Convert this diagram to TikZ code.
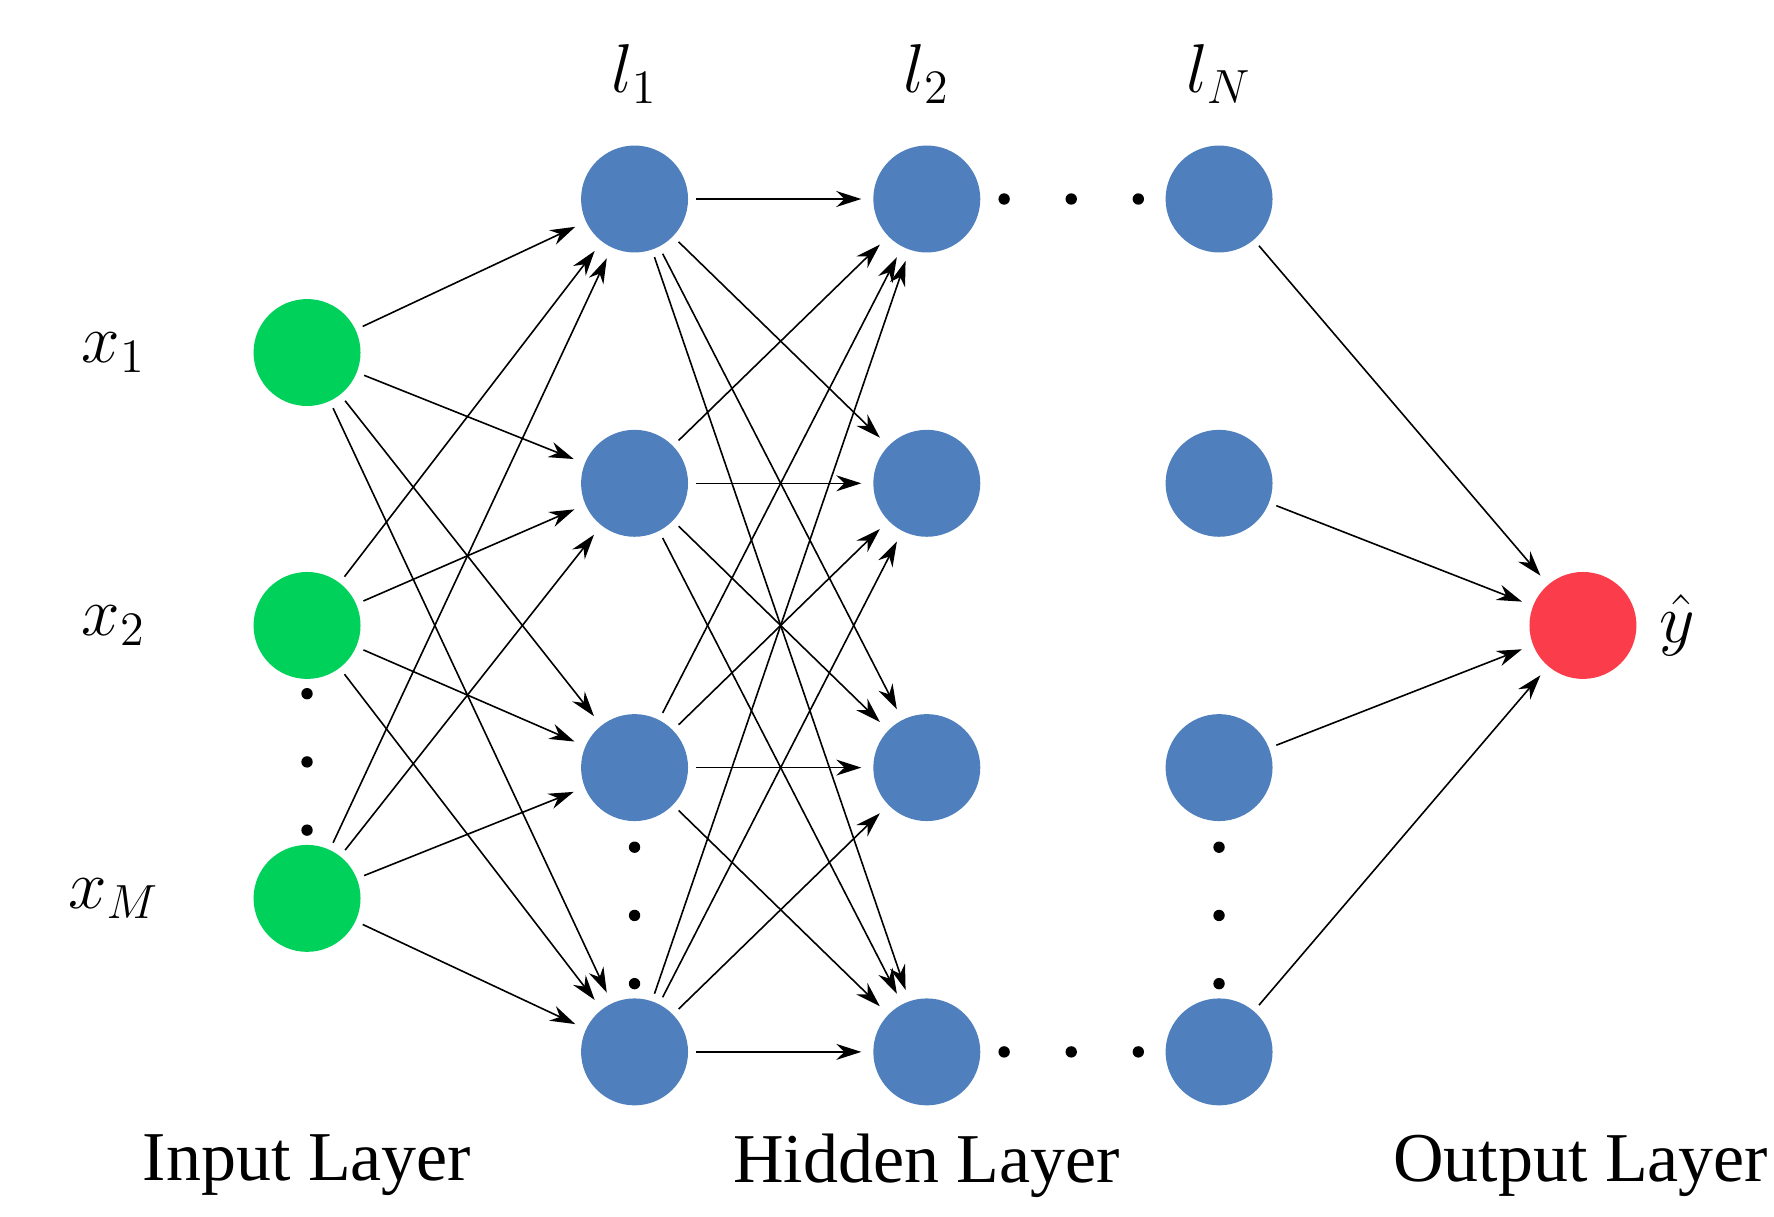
\documentclass[tikz,border=0pt]{standalone}
\usepackage{fontspec}
\setmainfont{Liberation Serif}
\usetikzlibrary{arrows.meta,positioning}

\begin{document}
\begin{tikzpicture}[
    x=0.01cm, y=-0.01cm,
    neuron/.style={circle, minimum size=0.94cm, inner sep=0pt, outer sep=1pt},
    input/.style={neuron, fill=nodegreen},
    hidden/.style={neuron, fill=nodeblue},
    output/.style={neuron, fill=nodered},
    line/.style={draw, -{Stealth[length=2.2mm, width=1.4mm]}, thin, shorten <=1pt, shorten >=2pt},
    dot/.style={circle, fill=black, inner sep=0pt, minimum size=0.1cm},
    lbl/.style={font=\fontsize{17.5}{20}\selectfont},
    mlbl/.style={font=\fontsize{18}{22}\selectfont}
]
    \useasboundingbox (0,0) rectangle (1560,1070);
    \definecolor{nodeblue}{RGB}{79,127,188}
    \definecolor{nodegreen}{RGB}{0,209,90}
    \definecolor{nodered}{RGB}{250,60,75}

    % Nodes
    \node [input] (i1) at (270,310) {};
    \node [input] (i2) at (270,550) {};
    \node [input] (i3) at (270,790) {};
    \foreach \y [count=\k] in {175,425,675,925} {
        \node [hidden] (a\k) at (558,\y) {};
        \node [hidden] (b\k) at (815,\y) {};
        \node [hidden] (c\k) at (1072,\y) {};
    }
    \node [output] (out) at (1392,550) {};

    % Labels
    \node [mlbl] (lx1) at (100,310) {$x_1$};
    \node [mlbl] (lx2) at (100,550) {$x_2$};
    \node [mlbl] (lxm) at (100,790) {$x_M$};
    \node [mlbl] (ll1) at (558,65) {$l_1$};
    \node [mlbl] (ll2) at (815,65) {$l_2$};
    \node [mlbl] (lln) at (1072,65) {$l_N$};
    \node [mlbl] (ly) at (1475,550) {$\hat{y}$};
    \node [lbl] (tin) at (270,1025) {Input Layer};
    \node [lbl] (thid) at (815,1025) {Hidden Layer};
    \node [lbl] (tout) at (1390,1025) {Output Layer};

    % Dots
    \foreach \y in {610,670,730} \node [dot] at (270,\y) {};
    \foreach \y in {745,805,865} {
        \node [dot] at (558,\y) {};
        \node [dot] at (1072,\y) {};
    }
    \foreach \x in {883,942,1001} {
        \node [dot] at (\x,175) {};
        \node [dot] at (\x,925) {};
    }

    % Edges
    \foreach \i in {1,2,3}
        \foreach \j in {1,2,3,4}
            \path [line] (i\i) -- (a\j);
    \foreach \i in {1,2,3,4}
        \foreach \j in {1,2,3,4}
            \path [line] (a\i) -- (b\j);
    \foreach \i in {1,2,3,4}
        \path [line] (c\i) -- (out);
\end{tikzpicture}
\end{document}
